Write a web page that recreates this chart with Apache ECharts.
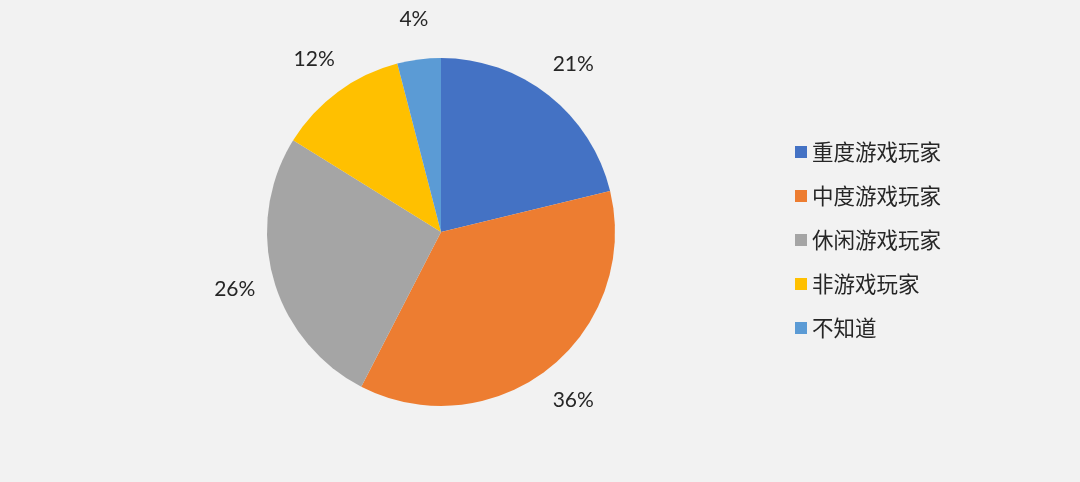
<!DOCTYPE html>
<html>
<head>
<meta charset="utf-8">
<script src="https://cdn.jsdelivr.net/npm/echarts@6/dist/echarts.min.js"></script>
<style>
html,body{margin:0;padding:0;background:#f2f2f2;}
#chart{width:1080px;height:482px;}
</style>
</head>
<body>
<div id="chart"></div>
<script>
const categories = ['重度游戏玩家', '中度游戏玩家', '休闲游戏玩家', '非游戏玩家', '不知道'];
const values = [21, 36, 26, 12, 4];
const colors = ['#4472C4', '#ED7D31', '#A5A5A5', '#FFC000', '#5B9BD5'];

const chart = echarts.init(document.getElementById('chart'));
const pieData = categories.map((c, i) => ({ name: c, value: values[i], itemStyle: { color: colors[i] } }));
const labelData = categories.map((c, i) => ({ name: c, value: values[i] }));

chart.setOption({
  backgroundColor: '#f2f2f2',
  animation: false,
  legend: {
    orient: 'vertical',
    left: 795,
    top: 141,
    padding: 0,
    icon: 'rect',
    itemWidth: 12,
    itemHeight: 12,
    itemGap: 22,
    data: categories,
    textStyle: { fontSize: 21.5, color: '#262626', fontFamily: 'Noto Sans CJK SC', lineHeight: 22 }
  },
  series: [
    {
      type: 'pie',
      center: [441, 232],
      radius: 174,
      startAngle: 90,
      clockwise: true,
      silent: true,
      label: { show: false },
      labelLine: { show: false },
      data: pieData
    },
    {
      type: 'pie',
      center: [441, 232],
      radius: [194, 228],
      startAngle: 90,
      clockwise: true,
      silent: true,
      itemStyle: { color: 'rgba(0,0,0,0)' },
      label: {
        show: true,
        position: 'inside',
        formatter: p => p.value + '%',
        fontSize: 21,
        color: '#262626',
        fontFamily: 'Lato, Noto Sans CJK SC'
      },
      labelLine: { show: false },
      data: labelData
    }
  ]
});
</script>
</body>
</html>
